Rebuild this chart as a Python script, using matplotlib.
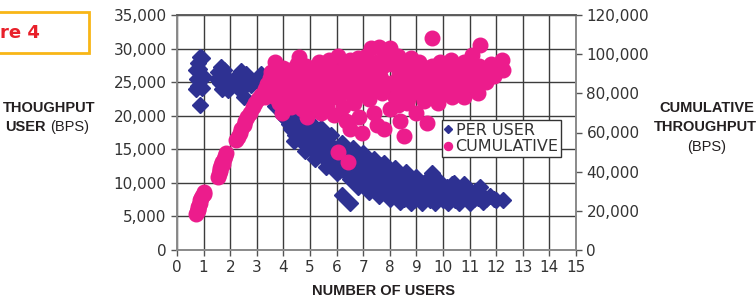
import matplotlib
matplotlib.use('Agg')
import matplotlib.pyplot as plt
from matplotlib import font_manager
from matplotlib.patches import Rectangle

# per user throughput (left axis), x = number of users, y in kbps
user_x = [0.72, 0.75, 0.72, 0.78, 0.85, 0.95, 0.8, 0.88, 0.9, 1.0, 0.95, 0.82,
          1.55, 1.65, 1.75, 1.5, 1.6, 1.8, 1.7, 1.9, 2.0, 1.85,
          2.2, 2.3, 2.4, 2.45, 2.55, 2.6, 2.7, 2.35, 2.5, 2.8, 3.0, 3.15, 3.3, 3.35,
          3.5, 3.6, 3.7, 3.8, 3.9, 4.0, 4.0, 4.1, 4.15, 4.2, 4.3, 4.3, 4.4, 4.45,
          4.5, 4.55, 4.6, 4.7, 4.75, 4.8, 4.9, 4.95, 5.0, 5.0, 5.1, 5.15, 5.2, 5.3,
          5.35, 5.4, 5.5, 5.5, 5.6, 5.65, 5.7, 5.8, 5.85, 5.9, 6.0, 6.0, 6.1, 6.15,
          6.2, 6.3, 6.3, 6.4, 6.45, 6.5, 6.55, 6.6, 6.7, 6.75, 6.8, 6.85, 6.9, 7.0,
          7.0, 7.05, 7.1, 7.2, 7.25, 7.3, 7.35, 7.4, 7.5, 7.5, 7.6, 7.65, 7.7, 7.75,
          7.8, 7.9, 7.95, 8.0, 8.0, 8.05, 8.15, 8.2, 8.3, 8.3, 8.4, 8.45, 8.5, 8.55,
          8.6, 8.7, 8.75, 8.8, 8.9, 8.9, 9.0, 9.05, 9.15, 9.2, 9.3, 9.35, 9.45, 9.5,
          9.6, 9.6, 9.7, 9.75, 9.85, 9.9, 10.0, 10.05, 10.15, 10.2, 10.3, 10.35,
          10.45, 10.5, 10.6, 10.7, 10.8, 10.9, 10.95, 11.05, 11.15, 11.2, 11.3,
          11.4, 11.45, 11.6, 11.75, 11.9, 12.25, 6.2, 6.5,
          4.6, 5.0, 5.4, 5.8, 6.2, 6.6, 7.0, 7.4, 7.8, 8.2, 8.6, 9.0, 9.4, 9.9,
          10.4, 10.8, 4.4, 4.8, 5.2, 5.6, 6.0, 6.8, 7.2, 7.6, 8.0, 8.4, 8.8, 9.2,
          9.7, 10.2, 10.6, 11.0, 11.5, 12.0]
user_y = [24.0, 25.5, 26.8, 27.8, 28.8, 28.6, 24.5, 21.6, 26.0, 25.8, 24.2, 27.0,
          26.5, 27.3, 26.8, 25.5, 24.8, 25.3, 24.0, 23.8, 24.6, 25.8,
          25.0, 26.0, 26.6, 25.2, 24.4, 26.2, 25.6, 23.8, 22.8, 24.6, 25.4, 26.2, 25.0, 23.0,
          24.0, 22.5, 21.5, 23.0, 21.0, 20.0, 21.8, 19.5, 20.8, 18.8, 19.8, 18.0, 18.8, 17.2,
          19.4, 17.8, 16.6, 18.5, 17.0, 15.8, 17.8, 16.2, 15.2, 18.0, 16.8, 15.0, 17.4, 15.8,
          14.5, 16.8, 15.2, 13.8, 16.2, 14.6, 13.2, 15.6, 14.0, 12.6, 15.0, 13.4, 11.8, 14.2,
          12.8, 14.6, 11.6, 13.4, 12.0, 10.6, 14.0, 12.6, 11.2, 13.6, 10.2, 12.4, 13.4, 11.0,
          12.6, 9.8, 12.2, 10.6, 13.0, 9.4, 11.4, 12.4, 10.2, 8.8, 11.6, 9.6, 12.6, 10.6,
          8.6, 11.2, 9.4, 10.4, 11.8, 8.2, 10.8, 9.2, 11.4, 8.0, 10.0, 8.8, 10.8, 7.6,
          9.4, 10.4, 8.2, 9.6, 7.4, 10.2, 8.6, 9.6, 7.6, 9.0, 10.0, 8.0, 9.2, 7.4,
          11.4, 8.6, 9.6, 7.6, 8.8, 9.8, 7.4, 8.4, 9.4, 7.8, 8.8, 9.8,
          7.4, 8.4, 9.0, 7.6, 8.4, 9.2, 7.4, 8.2, 7.6, 8.8, 7.8,
          9.4, 8.2, 7.6, 8.0, 7.6, 7.5, 8.2, 7.0,
          19.8, 19.0, 18.2, 17.2, 16.0, 15.2, 14.4, 13.6, 13.0, 12.2, 11.6, 10.8, 10.4, 10.2,
          10.0, 9.8, 16.2, 14.8, 13.6, 12.4, 11.4, 9.4, 8.6, 8.0, 7.6, 7.2, 7.0, 7.0,
          7.0, 7.0, 7.0, 7.0, 7.2, 7.4]

# cumulative throughput (right axis), y in kbps
cum_x = [0.72, 0.75, 0.78, 0.8, 0.82, 0.85, 0.88, 0.9, 0.95, 1.0, 1.02, 0.78,
         1.55, 1.58, 1.6, 1.63, 1.67, 1.7, 1.75, 1.8, 1.85, 1.62, 1.72,
         2.2, 2.3, 2.35, 2.4, 2.5, 2.55, 2.65, 2.75, 2.85, 2.95, 3.05, 3.15, 3.3,
         3.4, 3.5, 3.55, 3.7, 3.3, 3.5,
         3.6, 3.7, 3.8, 3.9, 4.0, 3.85, 4.0, 3.95,
         4.1, 4.2, 4.25, 4.3, 4.35, 4.45, 4.5, 4.4,
         4.6, 4.65, 4.7, 4.75, 4.8, 4.85, 4.9, 5.0, 4.95,
         5.1, 5.15, 5.2, 5.3, 5.35, 5.4, 5.45, 5.5, 5.5,
         5.6, 5.65, 5.7, 5.8, 5.85, 5.9, 6.0, 6.0, 6.05,
         6.1, 6.2, 6.25, 6.3, 6.35, 6.4, 6.45, 6.5, 6.5,
         6.6, 6.65, 6.7, 6.8, 6.85, 6.9, 7.0, 7.0, 6.95,
         7.1, 7.15, 7.2, 7.3, 7.35, 7.4, 7.45, 7.5, 7.5,
         7.6, 7.65, 7.7, 7.75, 7.8, 7.85, 7.9, 8.0, 8.0,
         8.1, 8.15, 8.2, 8.3, 8.35, 8.4, 8.45, 8.5, 8.55,
         8.6, 8.65, 8.7, 8.8, 8.85, 8.9, 9.0, 9.0,
         9.1, 9.15, 9.2, 9.3, 9.35, 9.4, 9.45, 9.5, 9.6,
         9.6, 9.7, 9.75, 9.8, 9.9, 10.0, 10.0,
         10.1, 10.2, 10.3, 10.35, 10.4, 10.5, 10.5,
         10.6, 10.7, 10.8, 10.85, 10.9, 11.0, 11.1,
         11.2, 11.3, 11.35, 11.4, 11.5, 11.55,
         11.7, 11.8, 11.9, 12.2, 12.25, 6.05, 6.43,
         4.2, 4.8, 5.3, 5.8, 6.3, 6.8, 7.3, 7.8, 8.3, 8.8, 9.3, 9.8, 10.3, 10.8,
         11.3, 11.6, 4.5, 5.6, 7.2, 8.7, 10.1, 11.0]
cum_y = [18.5, 19.5, 21.0, 22.0, 23.0, 24.0, 25.5, 26.5, 27.5, 28.5, 29.5, 20.5,
         37.5, 39.0, 40.5, 42.0, 43.5, 45.0, 46.5, 48.0, 49.5, 41.0, 44.0,
         56.0, 57.5, 60.0, 62.0, 64.0, 66.0, 68.0, 70.0, 73.0, 75.0, 77.0, 79.0, 82.0,
         85.0, 88.0, 91.0, 96.0, 78.0, 80.0,
         84, 78, 90, 82, 88, 75, 93, 70,
         85, 79, 92, 73, 88, 82, 95, 76,
         98.5, 86, 72, 90, 80, 94, 68, 85, 77,
         92, 74, 88, 81, 96, 70, 86, 93, 77,
         89, 74, 97, 83, 92, 69, 87, 78, 99,
         91, 84, 73, 95, 66, 88, 80, 97, 62,
         92, 75, 86, 98, 68, 90, 82, 94, 60,
         99, 87, 77, 103, 92, 70, 85, 96, 64,
         103.5, 89, 80, 94, 62, 99, 84, 103, 72,
         95, 86, 78, 99, 90, 66, 82, 96, 58,
         92, 75, 87, 98, 80, 93, 70, 86,
         96, 82, 90, 76, 93, 65, 87, 80, 108,
         94, 84, 90, 75, 96, 87, 80,
         92, 83, 97, 78, 89, 94, 85,
         90, 81, 96, 87, 92, 84, 99.5,
         90, 86, 94, 104.5, 88, 92,
         90, 95, 89, 97, 92, 50, 45,
         88, 83, 85, 80, 87, 79, 81, 86, 74, 83, 85, 84, 82, 78,
         80, 86, 89, 90, 89, 77, 88, 94]

x_ticks = list(range(0, 16))
left_ticks = [0, 5000, 10000, 15000, 20000, 25000, 30000, 35000]
right_ticks = [0, 20000, 40000, 60000, 80000, 100000, 120000]

names = {f.name for f in font_manager.fontManager.ttflist}
cond = 'Liberation Sans Narrow' if 'Liberation Sans Narrow' in names else 'Liberation Sans'
txt = '#231f20'
navy = '#2e3192'
pink = '#ec1c8c'

fig = plt.figure(figsize=(7.56, 3.05), dpi=100)
ax = fig.add_axes([177 / 756, 55 / 305, 399 / 756, 235 / 305])
ax2 = ax.twinx()

ax.plot(user_x, [v * 1000 for v in user_y], linestyle='none', marker='D',
        markersize=8, color=navy, label='PER USER')
ax2.plot(cum_x, [v * 1000 for v in cum_y], linestyle='none', marker='o',
         markersize=10.5, color=pink, label='CUMULATIVE')

ax.set_xlim(0, 15)
ax.set_ylim(0, 35000)
ax2.set_ylim(0, 120000)
ax.set_xticks(x_ticks)
ax.set_yticks(left_ticks)
ax2.set_yticks(right_ticks)
ax.set_yticklabels(['{:,}'.format(v) for v in left_ticks])
ax2.set_yticklabels(['{:,}'.format(v) for v in right_ticks])

ax.grid(True, color='#3c3c3c', linewidth=1)
ax.set_axisbelow(True)
for a in (ax, ax2):
    for s in a.spines.values():
        s.set_color('#8a8a8a')
        s.set_linewidth(1.2)
    a.tick_params(colors='#555555', labelcolor='#333333', labelsize=11, length=4, width=1)
ax2.spines['top'].set_color('#555555')

h1, l1 = ax.get_legend_handles_labels()
h2, l2 = ax2.get_legend_handles_labels()
leg = ax2.legend(h1 + h2, l1 + l2, loc='upper left', bbox_to_anchor=(0.664, 0.552),
                 frameon=True, fancybox=False, framealpha=1, edgecolor='#333333',
                 fontsize=11.5, markerscale=0.55, handlelength=0.5, handletextpad=0.2,
                 borderpad=0.15, labelspacing=0.1, borderaxespad=0)
leg.get_frame().set_linewidth(1)
for t in leg.get_texts():
    t.set_color('#333333')

# axis titles
fig.text(384 / 756, 1 - 291 / 305, 'NUMBER OF USERS', ha='center', va='center',
         family=cond, weight='bold', fontsize=10.5, color=txt)
fig.text(49 / 756, 1 - 108 / 305, 'THOUGHPUT', ha='center', va='center',
         family=cond, weight='bold', fontsize=10.5, color=txt)
fig.text(46 / 756, 1 - 127 / 305, 'USER', ha='right', va='center',
         family=cond, weight='bold', fontsize=10.5, color=txt)
fig.text(50 / 756, 1 - 127 / 305, '(BPS)', ha='left', va='center',
         family='Liberation Sans', fontsize=10.5, color=txt)
fig.text(707 / 756, 1 - 108 / 305, 'CUMULATIVE', ha='center', va='center',
         family=cond, weight='bold', fontsize=10.5, color=txt)
fig.text(705 / 756, 1 - 127 / 305, 'THROUGHPUT', ha='center', va='center',
         family=cond, weight='bold', fontsize=10.5, color=txt)
fig.text(707 / 756, 1 - 147 / 305, '(BPS)', ha='center', va='center',
         family='Liberation Sans', fontsize=10.5, color=txt)

# figure tag, cut off at the left edge
fig.patches.append(Rectangle((-0.02, 1 - 53 / 305), 89 / 756 + 0.02, 41 / 305,
                             transform=fig.transFigure, fill=False,
                             edgecolor='#f8b616', linewidth=2, clip_on=False))
fig.text(0.0, 1 - 33 / 305, 're 4', ha='left', va='center', weight='bold',
         fontsize=13, color='#e8202a')

fig.savefig('out.png', dpi=100)
